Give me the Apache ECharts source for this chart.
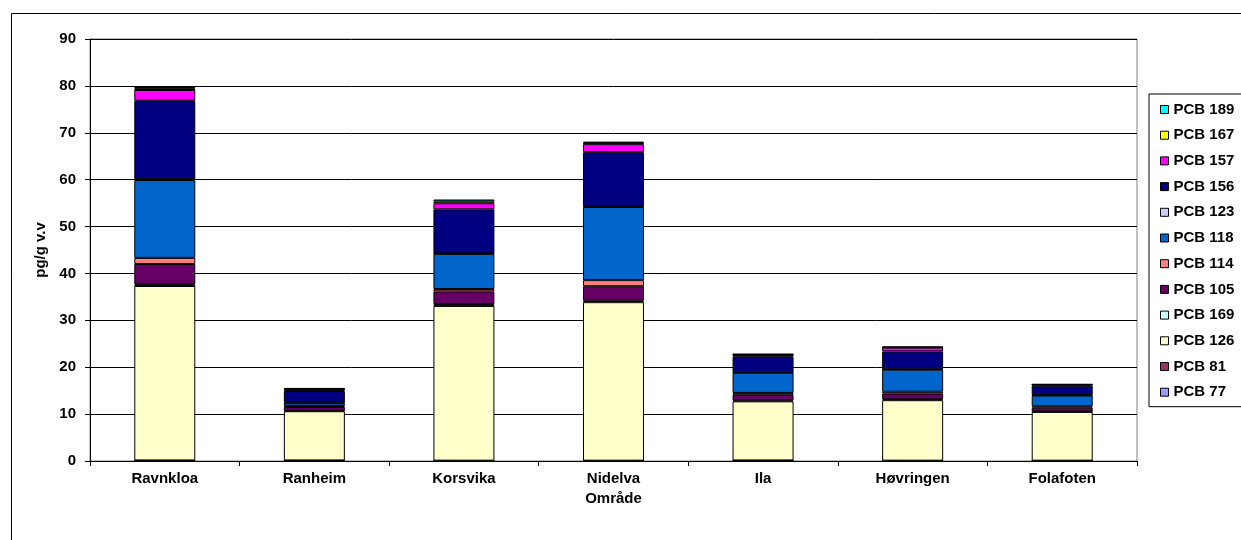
<!DOCTYPE html>
<html>
<head>
<meta charset="utf-8">
<script src="https://cdn.jsdelivr.net/npm/echarts@6/dist/echarts.min.js"></script>
<style>
  html, body { margin: 0; padding: 0; background: #fff; }
  #chart { width: 1241px; height: 540px; }
</style>
</head>
<body>
<div id="chart"></div>
<script>
// kategorier (x-akse)
const areas = ['Ravnkloa', 'Ranheim', 'Korsvika', 'Nidelva', 'Ila', 'Høvringen', 'Folafoten'];

// PCB-kongenere, stablet nedenfra og opp
const pcb77  = [0.02, 0.02, 0.02, 0.02, 0.02, 0.02, 0.02];
const pcb81  = [0.1, 0.1, 0.05, 0.05, 0.1, 0.05, 0.05];
const pcb126 = [37.2, 10.5, 33.0, 33.8, 12.6, 12.9, 10.4];
const pcb169 = [0.4, 0.1, 0.4, 0.3, 0.2, 0.2, 0.1];
const pcb105 = [4.3, 0.8, 2.7, 3.1, 1.2, 1.2, 0.8];
const pcb114 = [1.3, 0.2, 0.5, 1.3, 0.4, 0.4, 0.3];
const pcb118 = [16.6, 0.6, 7.5, 15.6, 4.3, 4.7, 2.3];
const pcb123 = [0.2, 0.1, 0.1, 0.1, 0.1, 0.1, 0.1];
const pcb156 = [16.7, 2.5, 9.4, 11.6, 3.3, 3.8, 2.0];
const pcb157 = [2.3, 0.4, 1.3, 1.7, 0.4, 0.8, 0.2];
const pcb167 = [0.4, 0.1, 0.4, 0.3, 0.1, 0.1, 0.05];
const pcb189 = [0.3, 0.1, 0.4, 0.2, 0.1, 0.1, 0.05];

const yTicks = [0, 10, 20, 30, 40, 50, 60, 70, 80, 90];

const seriesDefs = [
  { name: 'PCB 77',  data: pcb77,  color: '#9999FF' },
  { name: 'PCB 81',  data: pcb81,  color: '#993366' },
  { name: 'PCB 126', data: pcb126, color: '#FFFFCC' },
  { name: 'PCB 169', data: pcb169, color: '#CCFFFF' },
  { name: 'PCB 105', data: pcb105, color: '#660066' },
  { name: 'PCB 114', data: pcb114, color: '#FF8080' },
  { name: 'PCB 118', data: pcb118, color: '#0066CC' },
  { name: 'PCB 123', data: pcb123, color: '#CCCCFF' },
  { name: 'PCB 156', data: pcb156, color: '#000080' },
  { name: 'PCB 157', data: pcb157, color: '#FF00FF' },
  { name: 'PCB 167', data: pcb167, color: '#FFFF00' },
  { name: 'PCB 189', data: pcb189, color: '#00FFFF' }
];

const font = 'Liberation Sans, Arial, sans-serif';
const fs = 15;
const chart = echarts.init(document.getElementById('chart'));

const option = {
  animation: false,
  textStyle: { fontFamily: font },
  graphic: [
    {
      type: 'rect',
      shape: { x: 11.5, y: 13.5, width: 1260, height: 560 },
      style: { fill: 'none', stroke: '#000', lineWidth: 1 },
      silent: true
    }
  ],
  grid: {
    left: 90, top: 39, width: 1047, height: 422,
    show: true, borderColor: '#808080', borderWidth: 1
  },
  legend: {
    orient: 'vertical',
    left: 1149, top: 94,
    data: seriesDefs.map(s => s.name).reverse(),
    backgroundColor: '#fff',
    borderColor: '#000', borderWidth: 1,
    padding: [8, 10, 7, 11],
    itemWidth: 8, itemHeight: 8, itemGap: 10.7,
    icon: 'rect',
    itemStyle: { borderColor: '#000', borderWidth: 1 },
    textStyle: { fontFamily: font, fontSize: fs, fontWeight: 'bold', color: '#000' }
  },
  xAxis: {
    type: 'category',
    data: areas,
    name: 'Område',
    nameLocation: 'middle',
    nameGap: 28,
    nameTextStyle: { fontFamily: font, fontSize: fs, fontWeight: 'bold', color: '#000' },
    axisLine: { lineStyle: { color: '#000' } },
    axisTick: { show: true, length: 5, lineStyle: { color: '#000' } },
    axisLabel: { fontFamily: font, fontSize: fs, fontWeight: 'bold', color: '#000', margin: 10 }
  },
  yAxis: {
    type: 'value',
    min: yTicks[0], max: yTicks[yTicks.length - 1], interval: 10,
    name: 'pg/g v.v',
    nameLocation: 'middle',
    nameGap: 40,
    nameTextStyle: { fontFamily: font, fontSize: fs, fontWeight: 'bold', color: '#000' },
    axisLine: { show: true, lineStyle: { color: '#000' } },
    axisTick: { show: true, length: 5, inside: false, lineStyle: { color: '#000' } },
    splitLine: { lineStyle: { color: '#000', width: 1 } },
    axisLabel: { fontFamily: font, fontSize: fs, fontWeight: 'bold', color: '#000', margin: 14 }
  },
  series: seriesDefs.map(s => ({
    name: s.name,
    type: 'bar',
    stack: 'total',
    data: s.data,
    barWidth: 61,
    itemStyle: { color: s.color, borderColor: '#000', borderWidth: 1 }
  }))
};

chart.setOption(option);
</script>
</body>
</html>
